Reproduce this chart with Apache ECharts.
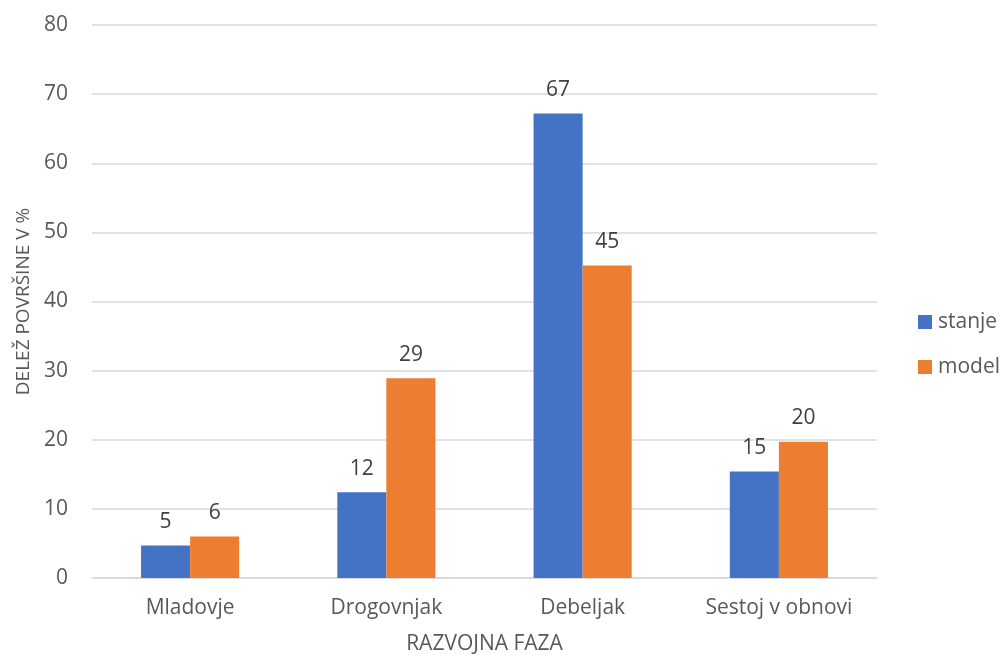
<!DOCTYPE html>
<html>
<head>
<meta charset="utf-8">
<script src="https://cdn.jsdelivr.net/npm/echarts@6/dist/echarts.min.js"></script>
<style>
  html, body { margin: 0; padding: 0; background: #fff; }
  #chart { width: 1000px; height: 655px; }
</style>
</head>
<body>
<div id="chart"></div>
<script>
// Razvojne faze: delež površine, dejansko stanje proti modelu
var categories = ['Mladovje', 'Drogovnjak', 'Debeljak', 'Sestoj v obnovi'];
var stanje = [4.7, 12.4, 67.2, 15.4];
var model = [6.0, 28.9, 45.2, 19.7];
var yTicks = { min: 0, max: 80, interval: 10 };

var FONT = '"Open Sans", sans-serif';
var TEXT = '#595959';

var labelOpt = {
  show: true,
  position: 'top',
  distance: 13,
  color: '#404040',
  fontFamily: FONT,
  fontSize: 21,
  formatter: function (p) { return Math.round(p.value); }
};

var chart = echarts.init(document.getElementById('chart'), null, { renderer: 'canvas' });
chart.setOption({
  animation: false,
  textStyle: { fontFamily: FONT },
  grid: { left: 92, right: 123, top: 25, bottom: 77, containLabel: false, outerBoundsMode: 'none' },
  legend: {
    orient: 'vertical',
    left: 918,
    top: 308,
    padding: 0,
    itemWidth: 14,
    itemHeight: 14,
    itemGap: 17,
    icon: 'rect',
    textStyle: { color: TEXT, fontSize: 21, fontFamily: FONT, padding: [0, 0, 0, 1], lineHeight: 28 },
    data: ['stanje', 'model']
  },
  xAxis: {
    type: 'category',
    data: categories,
    name: 'RAZVOJNA FAZA',
    nameLocation: 'middle',
    nameGap: 56,
    nameTextStyle: { color: TEXT, fontSize: 21, fontFamily: FONT },
    axisLine: { show: true, lineStyle: { color: '#d9d9d9', width: 1.5 } },
    axisTick: { show: false },
    axisLabel: { color: TEXT, fontSize: 21, fontFamily: FONT, margin: 20 }
  },
  yAxis: {
    type: 'value',
    min: yTicks.min,
    max: yTicks.max,
    interval: yTicks.interval,
    name: 'DELEŽ POVRŠINE V %',
    nameLocation: 'middle',
    nameGap: 56,
    nameTextStyle: { color: TEXT, fontSize: 19, fontFamily: FONT },
    axisLine: { show: false },
    axisTick: { show: false },
    axisLabel: { color: TEXT, fontSize: 21, fontFamily: FONT, margin: 24 },
    splitLine: { lineStyle: { color: '#d9d9d9', width: 1.5 } }
  },
  series: [
    {
      name: 'stanje',
      type: 'bar',
      data: stanje,
      barGap: '0%',
      barCategoryGap: '50%',
      itemStyle: { color: '#4472c4' },
      label: labelOpt
    },
    {
      name: 'model',
      type: 'bar',
      data: model,
      barGap: '0%',
      barCategoryGap: '50%',
      itemStyle: { color: '#ed7d31' },
      label: labelOpt
    }
  ]
});
</script>
</body>
</html>
